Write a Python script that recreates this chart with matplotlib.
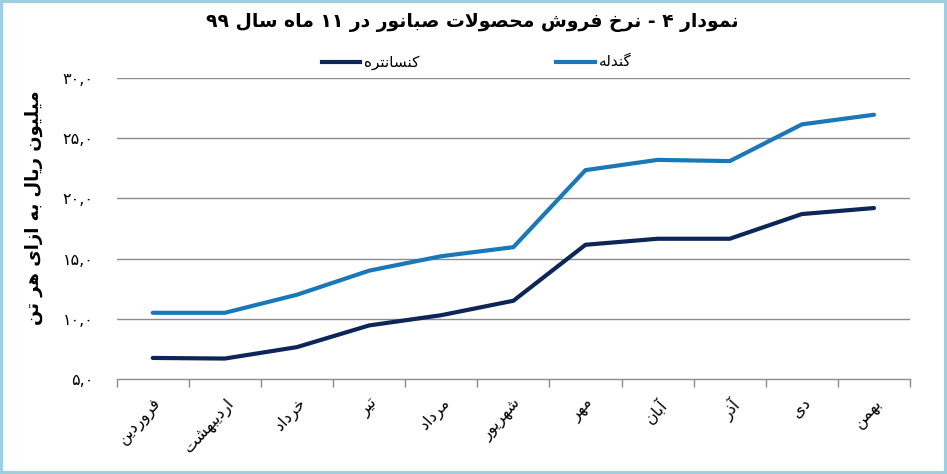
import matplotlib
matplotlib.use("Agg")
import matplotlib.pyplot as plt
from matplotlib.patches import Rectangle
from matplotlib.lines import Line2D

# ---------------- data ----------------
months = ["فروردین", "اردیبهشت", "خرداد", "تیر", "مرداد", "شهریور",
          "مهر", "آبان", "آذر", "دی", "بهمن"]
gondaleh = [10.5, 10.5, 12.0, 14.0, 15.2, 15.95, 22.35, 23.2, 23.1, 26.15, 26.95]
concentrate = [6.75, 6.7, 7.65, 9.45, 10.3, 11.5, 16.15, 16.65, 16.65, 18.7, 19.2]
yticks = [5, 10, 15, 20, 25, 30]
ytick_labels = ["۵,۰", "۱۰,۰", "۱۵,۰", "۲۰,۰", "۲۵,۰", "۳۰,۰"]
title = "نمودار ۴ - نرخ فروش محصولات صبانور در ۱۱ ماه سال ۹۹"
ylabel = "میلیون ریال به ازای هر تن"
name_gondaleh = "گندله"
name_concentrate = "کنسانتره"

# ------------- minimal Arabic/Persian shaper -------------
FORMS = {
    '\u0627': ('\uFE8D', '\uFE8E', None, None),
    '\u0622': ('\uFE81', '\uFE82', None, None),
    '\u0628': ('\uFE8F', '\uFE90', '\uFE91', '\uFE92'),
    '\u062A': ('\uFE95', '\uFE96', '\uFE97', '\uFE98'),
    '\u062D': ('\uFEA1', '\uFEA2', '\uFEA3', '\uFEA4'),
    '\u062E': ('\uFEA5', '\uFEA6', '\uFEA7', '\uFEA8'),
    '\u062F': ('\uFEA9', '\uFEAA', None, None),
    '\u0630': ('\uFEAB', '\uFEAC', None, None),
    '\u0631': ('\uFEAD', '\uFEAE', None, None),
    '\u0632': ('\uFEAF', '\uFEB0', None, None),
    '\u0633': ('\uFEB1', '\uFEB2', '\uFEB3', '\uFEB4'),
    '\u0634': ('\uFEB5', '\uFEB6', '\uFEB7', '\uFEB8'),
    '\u0635': ('\uFEB9', '\uFEBA', '\uFEBB', '\uFEBC'),
    '\u0641': ('\uFED1', '\uFED2', '\uFED3', '\uFED4'),
    '\u0644': ('\uFEDD', '\uFEDE', '\uFEDF', '\uFEE0'),
    '\u0645': ('\uFEE1', '\uFEE2', '\uFEE3', '\uFEE4'),
    '\u0646': ('\uFEE5', '\uFEE6', '\uFEE7', '\uFEE8'),
    '\u0647': ('\uFEE9', '\uFEEA', '\uFEEB', '\uFEEC'),
    '\u0648': ('\uFEED', '\uFEEE', None, None),
    '\u06CC': ('\uFBFC', '\uFBFD', '\uFBFE', '\uFBFF'),
    '\u06A9': ('\uFB8E', '\uFB8F', '\uFB90', '\uFB91'),
    '\u06AF': ('\uFB92', '\uFB93', '\uFB94', '\uFB95'),
}
LAMALEF = {'\u0627': ('\uFEFB', '\uFEFC'), '\u0622': ('\uFEF5', '\uFEF6')}


def _dual(c):
    return c in FORMS and FORMS[c][2] is not None


def shape(text):
    chars = list(text)
    n = len(chars)
    out = []
    i = 0
    while i < n:
        c = chars[i]
        if c not in FORMS:
            out.append(c)
            i += 1
            continue
        prev = chars[i - 1] if i > 0 else ''
        conn_prev = _dual(prev)
        if c == '\u0644' and i + 1 < n and chars[i + 1] in LAMALEF:
            lig = LAMALEF[chars[i + 1]]
            out.append(lig[1] if conn_prev else lig[0])
            i += 2
            continue
        nxt = chars[i + 1] if i + 1 < n else ''
        conn_next = _dual(c) and nxt in FORMS
        iso, fin, ini, med = FORMS[c]
        if conn_prev and conn_next:
            g = med
        elif conn_prev:
            g = fin
        elif conn_next:
            g = ini
        else:
            g = iso
        out.append(g)
        i += 1
    return ''.join(reversed(out))


# ---------------- plot ----------------
plt.rcParams['font.family'] = ['DejaVu Sans']
NAVY = "#0e2657"
BLUE = "#1a78b9"
GRID = "#8c8c8c"

fig = plt.figure(figsize=(9.47, 4.74), dpi=100)
fig.patch.set_facecolor("white")
ax = fig.add_axes([0.1232, 0.2004, 0.8378, 0.635])

x = list(range(len(months)))
ax.plot(x, concentrate, color=NAVY, lw=3.0, solid_capstyle='round',
        solid_joinstyle='round', zorder=3)
ax.plot(x, gondaleh, color=BLUE, lw=3.0, solid_capstyle='round',
        solid_joinstyle='round', zorder=3)

ax.set_xlim(-0.5, len(months) - 0.5)
ax.set_ylim(5, 30)
for s in ['left', 'right', 'top']:
    ax.spines[s].set_visible(False)
ax.spines['bottom'].set_color(GRID)
ax.spines['bottom'].set_linewidth(1.0)

ax.set_yticks(yticks)
ax.set_yticklabels(ytick_labels, fontsize=11.5)
ax.tick_params(axis='y', length=0, pad=16.5)
for yv in yticks[1:]:
    ax.axhline(yv, color=GRID, lw=1.0, zorder=1)

ax.set_xticks(x)
ax.set_xticklabels([shape(m) for m in months], rotation=48, ha='right',
                   va='top', rotation_mode='anchor', fontsize=11.5)
ax.tick_params(axis='x', which='major', length=0, pad=12)
ax.set_xticks([v - 0.5 for v in range(len(months) + 1)], minor=True)
ax.tick_params(axis='x', which='minor', length=6, color=GRID, width=1.0)

fig.text(34 / 947, 1 - 208 / 474, shape(ylabel), rotation=90,
         ha='center', va='center', fontsize=13, fontweight='bold')

fig.text(472 / 947, 1 - 23 / 474, shape(title), ha='center', va='center',
         fontsize=13.5, fontweight='bold')

# legend (manual, to mimic RTL layout)
fig.add_artist(Line2D([322 / 947, 360 / 947], [1 - 62 / 474] * 2,
                      color=NAVY, lw=3.0, transform=fig.transFigure))
fig.text(364 / 947, 1 - 62 / 474, shape(name_concentrate), ha='left',
         va='center', fontsize=11)
fig.add_artist(Line2D([556 / 947, 595 / 947], [1 - 62 / 474] * 2,
                      color=BLUE, lw=3.0, transform=fig.transFigure))
fig.text(599 / 947, 1 - 62 / 474, shape(name_gondaleh), ha='left',
         va='center', fontsize=11)

# frame
fig.add_artist(Rectangle((0.0015, 0.003), 0.997, 0.994, fill=False,
                         edgecolor="#9dcfe0", lw=3.0,
                         transform=fig.transFigure))

fig.savefig("out.png", dpi=100, facecolor="white")
